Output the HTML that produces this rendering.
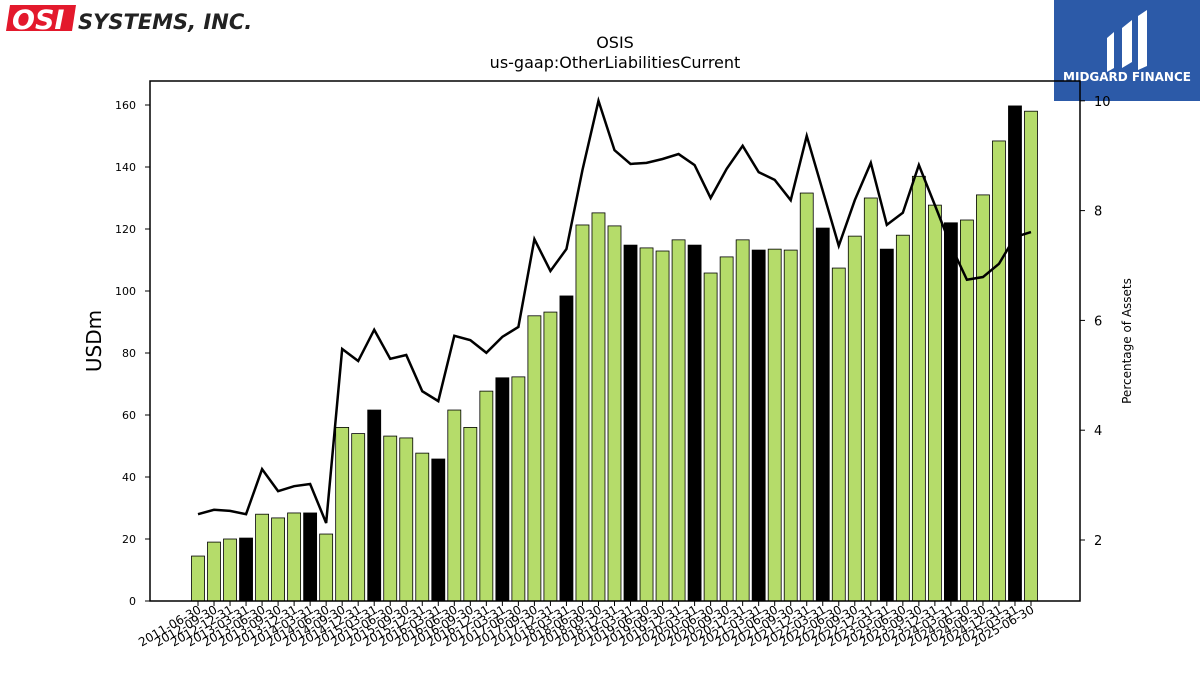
<!DOCTYPE html>
<html><head><meta charset="utf-8">
<style>
body{margin:0;background:#fff;width:1200px;height:675px;overflow:hidden;font-family:"Liberation Sans","DejaVu Sans",sans-serif}
svg text{font-family:"DejaVu Sans","Liberation Sans",sans-serif}
</style></head>
<body>
<svg id="chart" width="1200" height="675" viewBox="0 0 1200 675">
  <g>
    <polygon points="10,5 76,5 72,31 6,31" fill="#e3192c"/>
    <text x="12" y="29" font-size="27" font-weight="bold" font-style="italic" fill="#fff" font-family="Liberation Sans">OSI</text>
    <text x="78" y="29" font-size="21" font-weight="bold" font-style="italic" fill="#222" font-family="Liberation Sans">SYSTEMS, INC.</text>
  </g>
  <g>
    <rect x="1054" y="0" width="146" height="101" fill="#2c5aa8"/>
    <path d="M1107,38 L1114,32 L1114,68 L1107,72 Z M1122,28 L1132,20 L1132,62 L1122,68 Z M1138,16 L1147,10 L1147,66 L1138,70 Z" fill="#fff"/>
    <text x="1127" y="81" font-size="12" font-weight="bold" fill="#fff" text-anchor="middle" font-family="Liberation Sans">MIDGARD FINANCE</text>
  </g>
  <text x="615" y="48" font-size="16" text-anchor="middle">OSIS</text>
  <text x="615" y="68" font-size="16" text-anchor="middle">us-gaap:OtherLiabilitiesCurrent</text>
  <g id="plot"></g>
  <rect x="150" y="81" width="930" height="520" fill="none" stroke="#000" stroke-width="1.5"/>
  <text transform="translate(101,341) rotate(-90)" font-size="20" text-anchor="middle">USDm</text>
  <text transform="translate(1131,341) rotate(-90)" font-size="12" text-anchor="middle">Percentage of Assets</text>
</svg>
<script>
const categories=["2011-06-30"];
for(let y=2012,q=1;categories.length<53;){const e=["03-31","06-30","09-30","12-31"];if(!(y===2012&&q<2))categories.push(y+"-"+e[q]);q++;if(q>3){q=0;y++;}}
const barValues=[14.5,19,20,20.3,28,26.8,28.4,28.4,21.6,56,54,61.6,53.2,52.6,47.7,45.8,61.6,56,67.7,72,72.3,92,93.2,98.4,121.3,125.2,121,114.8,113.9,112.9,116.5,114.8,105.8,111,116.5,113.2,113.5,113.2,131.6,120.3,107.4,117.7,130,113.5,118,137,127.7,122,122.9,131,148.4,159.7,158];
const pctValues=[2.47,2.55,2.53,2.47,3.29,2.89,2.98,3.02,2.31,5.48,5.26,5.83,5.30,5.37,4.71,4.53,5.72,5.64,5.41,5.70,5.88,7.48,6.90,7.30,8.74,10.0,9.10,8.85,8.87,8.94,9.03,8.83,8.23,8.76,9.18,8.70,8.56,8.19,9.36,8.36,7.36,8.19,8.87,7.74,7.96,8.83,8.10,7.36,6.74,6.79,7.03,7.52,7.61];
const leftTicks=[0,20,40,60,80,100,120,140,160];
const rightTicks=[2,4,6,8,10];
const NS="http://www.w3.org/2000/svg";
const plot=document.getElementById("plot");
const x0=198,dx=(1031-198)/52,bw=13;
const xS=i=>x0+i*dx;
const yL=v=>601-v*3.1;
const yR=v=>540-(v-2)*54.9;
function mk(t,a){const e=document.createElementNS(NS,t);for(const k in a)e.setAttribute(k,a[k]);plot.appendChild(e);return e;}
barValues.forEach((v,i)=>{
  const r=mk("rect",{x:xS(i)-bw/2,y:yL(v),width:bw,height:yL(0)-yL(v),fill:i%4===3?"#000":"#b5dc6a",stroke:"#000","stroke-width":0.8});
  
  
  const tk=mk("line",{x1:xS(i),x2:xS(i),y1:601,y2:606,stroke:"#000"});
  
  
  const t=mk("text",{transform:`translate(${xS(i)+4},${612}) rotate(-30)`,"font-size":12,"text-anchor":"end"});
  t.textContent=categories[i];
  
  
});
const pl=mk("polyline",{points:pctValues.map((v,i)=>xS(i)+","+yR(v)).join(" "),fill:"none",stroke:"#000","stroke-width":2.5});


leftTicks.forEach(v=>{
  const l=mk("line",{x1:145,x2:150,y1:yL(v),y2:yL(v),stroke:"#000"});
  
  
  const t=mk("text",{x:136,y:yL(v)+4,"font-size":11,"text-anchor":"end"});
  t.textContent=v;
  
  
});
rightTicks.forEach(v=>{
  const l=mk("line",{x1:1080,x2:1085,y1:yR(v),y2:yR(v),stroke:"#000"});
  
  
  const t=mk("text",{x:1094,y:yR(v)+5,"font-size":13});
  t.textContent=v;
  
  
});
</script>
</body></html>
